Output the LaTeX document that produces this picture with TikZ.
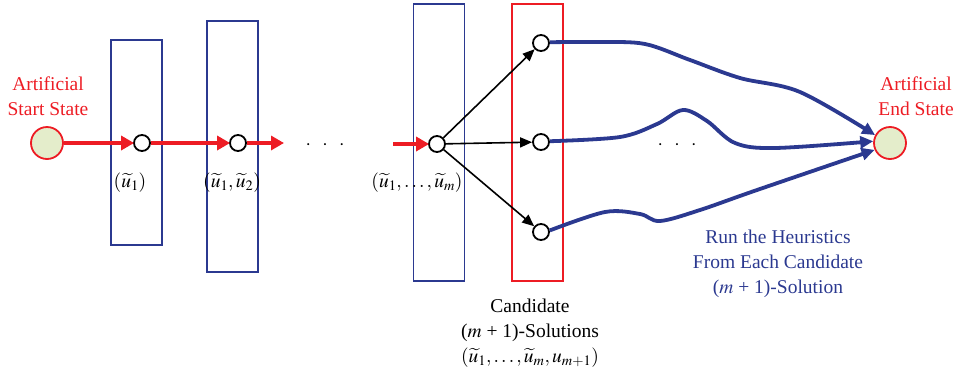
\documentclass[tikz,border=0pt]{standalone}
\usepackage{mathptmx}
\usepackage{fontspec}
\setmainfont{Liberation Serif}
\usetikzlibrary{arrows.meta}
\definecolor{myred}{HTML}{ED1C24}
\definecolor{myblue}{HTML}{2B3990}
\definecolor{mygreen}{HTML}{E4EDCB}
\tikzset{
  txt/.style={font=\fontsize{19.5}{25}\selectfont, align=center, inner sep=0pt},
  bigstate/.style={circle, draw=myred, line width=1.8pt, fill=mygreen, minimum size=32pt, inner sep=0pt},
  smallstate/.style={circle, draw=black, line width=1.8pt, fill=white, minimum size=16pt, inner sep=0pt},
  bluebox/.style={draw=myblue, line width=1.6pt, minimum width=51pt, inner sep=0pt},
  redbox/.style={draw=myred, line width=1.6pt, minimum width=51pt, inner sep=0pt},
  redarrow/.style={draw=myred, line width=4pt, -{Triangle[length=13pt,width=14pt]}, shorten >=-1pt},
  blackarrow/.style={draw=black, line width=1.6pt, -{Triangle[length=12pt,width=10pt]}},
  bluearrow/.style={draw=myblue, line width=3.8pt, -{Triangle[length=13pt,width=12pt]}},
}
\begin{document}
\begin{tikzpicture}[x=1pt,y=-1pt]
\useasboundingbox (0,0) rectangle (957,378);
% boxes
\node[bluebox, minimum height=205pt] (r1) at (136.5,142.5) {};
\node[bluebox, minimum height=251pt] (r2) at (232.5,146.5) {};
\node[bluebox, minimum height=277pt] (rm) at (439,142.5) {};
\node[redbox, minimum height=277pt] (rc) at (537.5,142.5) {};
% states
\node[bigstate] (s) at (47,143) {};
\node[bigstate] (e) at (890,143) {};
\node[smallstate] (n1) at (142,143) {};
\node[smallstate] (n2) at (238,143) {};
\node[smallstate] (nm) at (437,144) {};
\node[smallstate] (c1) at (541,43) {};
\node[smallstate] (c2) at (541,142) {};
\node[smallstate] (c3) at (541,232) {};
\coordinate (n2out) at (283,143);
\coordinate (nmin) at (393,144);
% texts
\node[txt, text=myred] (st) at (48,96) {Artificial\\Start State};
\node[txt, text=myred] (et) at (916,96) {Artificial\\End State};
\node[txt] (l1) at (130,183) {$(\widetilde{u}_{1})$};
\node[txt] (l2) at (232,183) {$(\widetilde{u}_{1}, \widetilde{u}_{2})$};
\node[txt] (lm) at (417,183) {$(\widetilde{u}_{1}, \ldots, \widetilde{u}_{m})$};
\node[txt] (d1) at (325,145) {$\cdot\;\;\cdot\;\;\cdot$};
\node[txt] (d2) at (677,145) {$\cdot\;\;\cdot\;\;\cdot$};
\node[txt, text=myblue] (ht) at (778,264) {Run the Heuristics\\From Each Candidate\\($m$ + 1)-Solution};
\node[txt] (ct) at (530,333) {Candidate\\($m$ + 1)-Solutions\\$(\widetilde{u}_{1}, \ldots, \widetilde{u}_{m}, u_{m+1})$};
% red arrows
\draw[redarrow] (s) -- (n1);
\draw[redarrow] (n1) -- (n2);
\draw[redarrow] (n2) -- (n2out);
\draw[redarrow] (nmin) -- (nm);
% black arrows
\draw[blackarrow] (nm) -- (c1);
\draw[blackarrow] (nm) -- (c2);
\draw[blackarrow] (nm) -- (c3);
% blue curves
\draw[bluearrow] plot[smooth, tension=0.55] coordinates {(c1.5) (600,42) (645,44) (690,60) (740,78) (800,92) (e.152)};
\draw[bluearrow] plot[smooth, tension=0.55] coordinates {(c2.5) (620,137) (657,124) (683,110) (707,121) (735,143) (775,148) (e.174)};
\draw[bluearrow] plot[smooth, tension=0.55] coordinates {(c3.10) (605,212) (640,214) (660,221) (700,210) (757,190) (e.204)};
\end{tikzpicture}
\end{document}
